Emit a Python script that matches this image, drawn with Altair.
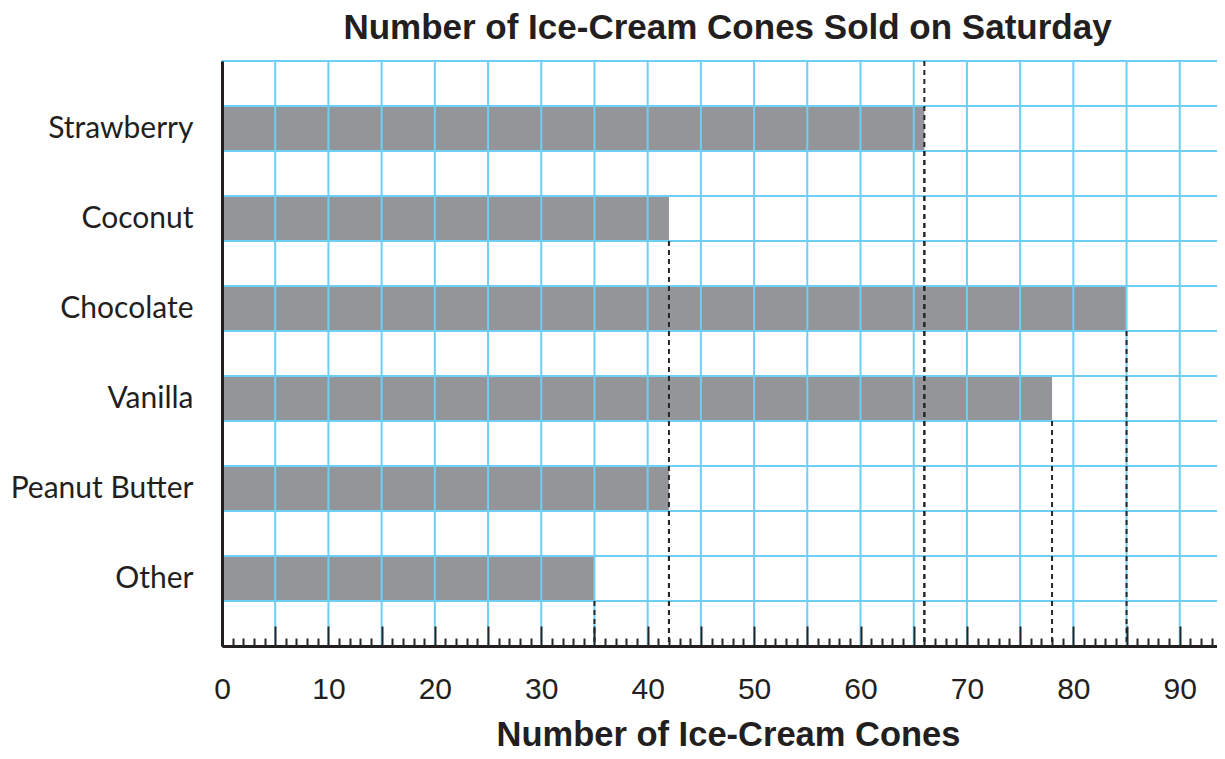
import altair as alt
import pandas as pd

# ---- data ----
flavors = ["Strawberry", "Coconut", "Chocolate", "Vanilla", "Peanut Butter", "Other"]
cones = [66, 42, 85, 78, 42, 35]
x_labels = list(range(0, 95, 10))          # 0 .. 90
grid_x = list(range(0, 95, 5))             # vertical grid / major ticks
minor_x = [v for v in range(0, 94) if v % 5]  # minor ticks
grid_rows = list(range(0, 14))             # horizontal grid rows

df = pd.DataFrame({"flavor": flavors, "cones": cones})
gx = pd.DataFrame({"v": grid_x})
gr = pd.DataFrame({"row": grid_rows})

X_MAX = 93.5
BAR = "#939598"
GRID = "#6dcff6"
INK = "#231f20"
DASH = "#262626"

xs = alt.Scale(domain=[0, X_MAX], nice=False, zero=False)
ys = alt.Scale(domain=flavors, paddingInner=0.5, paddingOuter=0.5)

main_x_axis = alt.Axis(
    orient="bottom", values=x_labels, grid=False, ticks=False, tickSize=0,
    domain=True, domainColor=INK, domainWidth=3,
    labelFont="Liberation Sans", labelFontSize=30, labelColor=INK, labelPadding=28,
    labelFlush=False,
    title="Number of Ice-Cream Cones", titleFont="Liberation Sans", titleFontSize=34.5,
    titleFontWeight="bold", titleColor=INK, titleX=506, titleY=99,
    titleAlign="center", titleBaseline="alphabetic", zindex=1,
)
major_axis = alt.Axis(
    orient="bottom", values=grid_x, grid=False, ticks=True, tickSize=20,
    tickColor=DASH, tickWidth=2, offset=-20, labels=False, domain=False,
    title=None, zindex=1,
)
minor_axis = alt.Axis(
    orient="bottom", values=minor_x, grid=False, ticks=True, tickSize=8,
    tickColor=DASH, tickWidth=2, offset=-8, labels=False, domain=False,
    title=None, zindex=1,
)
y_axis = alt.Axis(
    orient="left", title=None, ticks=False, grid=False, domain=True,
    domainColor=INK, domainWidth=3, labelFont="Lato", labelFontSize=30,
    labelColor=INK, labelPadding=29, labelLimit=0, zindex=1,
    labelExpr="datum.value == 'Other' ? 'Other\u00a0' : datum.value",
)

bars = alt.Chart(df).mark_bar(color=BAR).encode(
    x=alt.X("cones:Q", scale=xs, axis=main_x_axis),
    y=alt.Y("flavor:N", scale=ys, axis=y_axis),
)

hgrid = alt.Chart(gr).mark_rule(color=GRID, strokeWidth=2).encode(
    y=alt.Y("row:Q", scale=alt.Scale(domain=[0, 13], nice=False, zero=False), axis=None),
)

vgrid = alt.Chart(gx).mark_rule(color=GRID, strokeWidth=2).encode(
    x=alt.X("v:Q", scale=xs, axis=major_axis),
)

dashed = alt.Chart(df).mark_rule(color=DASH, strokeWidth=2, strokeDash=[5, 4]).encode(
    x=alt.X("cones:Q", scale=xs, axis=minor_axis),
    y=alt.Y("flavor:N", scale=ys, bandPosition=1, axis=None),
    y2=alt.value("height"),
)

dashed_full = alt.Chart(df).transform_filter(
    alt.datum.flavor == flavors[0]
).mark_rule(color=DASH, strokeWidth=2, strokeDash=[5, 4]).encode(
    x=alt.X("cones:Q", scale=xs, axis=None),
)

chart = alt.layer(bars, hgrid, vgrid, dashed, dashed_full).resolve_scale(
    y="independent"
).resolve_axis(
    x="independent", y="independent"
).properties(
    width=995,
    height=585,
    autosize="none",
    padding={"left": 214, "top": 53, "right": 0, "bottom": 105},
    title=alt.TitleParams(
        "Number of Ice-Cream Cones Sold on Saturday",
        font="Liberation Sans", fontSize=35, fontWeight="bold", color=INK,
        anchor="middle", frame="group", offset=14, dx=8,
    ),
).configure_view(stroke=None)

chart.save("out.html", embed_options={"renderer": "svg", "actions": False})
